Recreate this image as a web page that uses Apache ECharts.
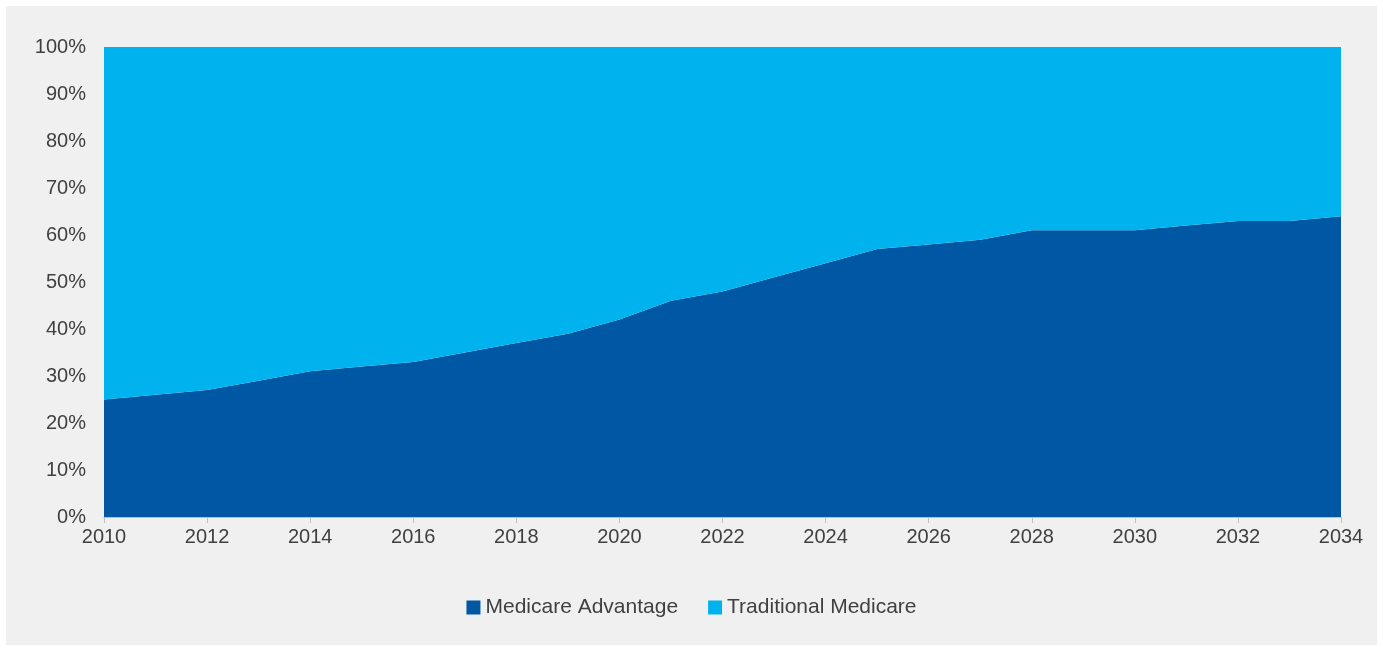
<!DOCTYPE html>
<html><head><meta charset="utf-8">
<script src="https://cdn.jsdelivr.net/npm/echarts@6/dist/echarts.min.js"></script>
<style>html,body{margin:0;padding:0;background:#fff}#c{position:absolute;left:6px;top:6px;width:1371px;height:639px;background:#f0f0f0}</style>
</head><body><div id="c"></div>
<script>
const years = ['2010','2011','2012','2013','2014','2015','2016','2017','2018','2019','2020','2021','2022','2023','2024','2025','2026','2027','2028','2029','2030','2031','2032','2033','2034'];
const medicareAdvantage = [25,26,27,29,31,32,33,35,37,39,42,46,48,51,54,57,58,59,61,61,61,62,63,63,64];
const traditionalMedicare = medicareAdvantage.map(v => 100 - v);
const chart = echarts.init(document.getElementById('c'));
const font = '"Liberation Sans", Arial, sans-serif';
chart.setOption({
  animation:false,
  grid:{left:98,right:36,top:41,bottom:128},
  legend:{bottom:22,itemWidth:14,itemHeight:14,itemGap:30,icon:'rect',
    textStyle:{fontFamily:font,fontSize:21,color:'#404040'},
    data:['Medicare Advantage','Traditional Medicare']},
  xAxis:{type:'category',data:years,boundaryGap:false,
    axisLine:{lineStyle:{color:'#bfbfbf'}},
    axisTick:{interval:1,length:6,lineStyle:{color:'#bfbfbf'}},
    axisLabel:{interval:1,fontFamily:font,fontSize:20,color:'#404040',margin:10},
    splitLine:{show:false}},
  yAxis:{type:'value',min:0,max:100,interval:10,
    axisLabel:{formatter:'{value}%',fontFamily:font,fontSize:20,color:'#404040',margin:18},
    splitLine:{show:false},axisLine:{show:false},axisTick:{show:false}},
  series:[
    {name:'Medicare Advantage',type:'line',stack:'s',data:medicareAdvantage,symbol:'none',
     lineStyle:{width:0},areaStyle:{color:'#0057a4',opacity:1},itemStyle:{color:'#0057a4'}},
    {name:'Traditional Medicare',type:'line',stack:'s',data:traditionalMedicare,symbol:'none',
     lineStyle:{width:0},areaStyle:{color:'#00b3ef',opacity:1},itemStyle:{color:'#00b3ef'}}
  ]
});
</script></body></html>
